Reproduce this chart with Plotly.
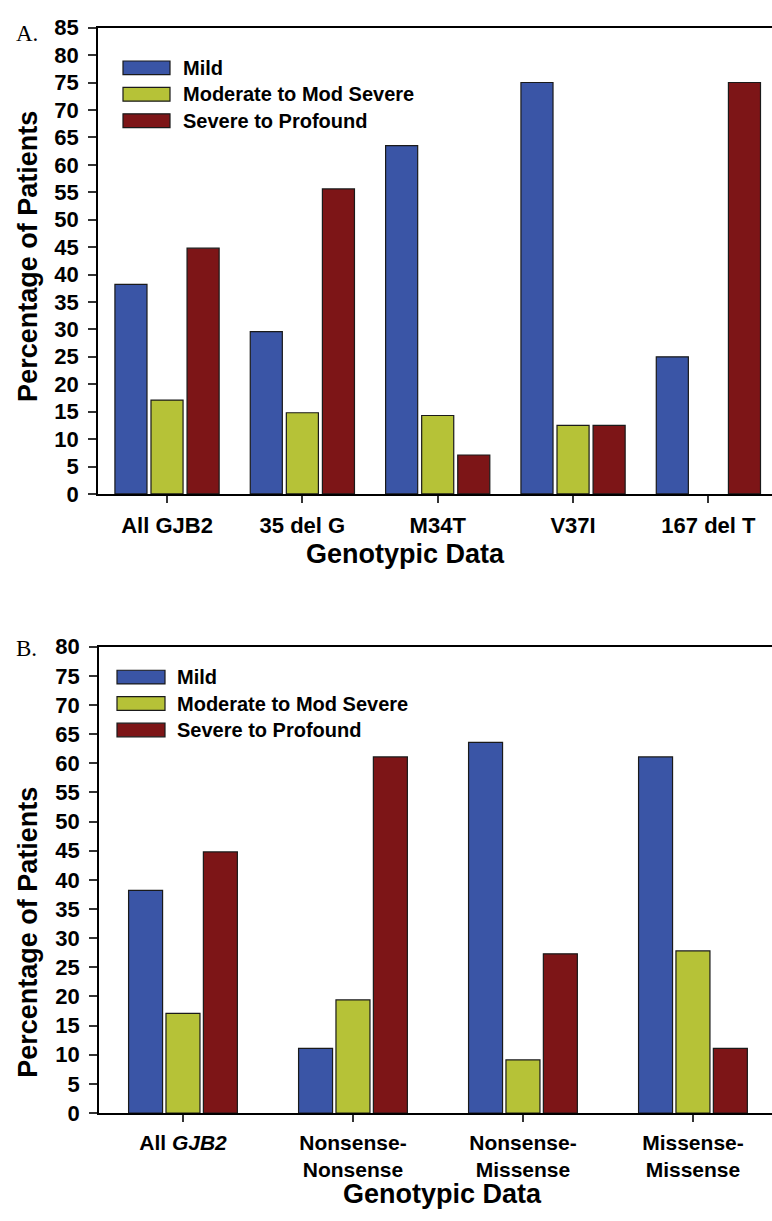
import plotly.graph_objects as go

# ---------------- data ----------------
series = ["Mild", "Moderate to Mod Severe", "Severe to Profound"]
colors = ["#3A55A6", "#B6C237", "#7D1517"]

cats_a = ["All GJB2", "35 del G", "M34T", "V37I", "167 del T"]
labels_a = ["All GJB2", "35 del G", "M34T", "V37I", "167 del T"]
mild_a = [38.2, 29.6, 63.5, 75.0, 25.0]
moderate_a = [17.1, 14.8, 14.3, 12.5, 0.0]
severe_a = [44.8, 55.6, 7.1, 12.5, 75.0]

cats_b = ["All GJB2", "Nonsense-Nonsense", "Nonsense-Missense", "Missense-Missense"]
labels_b = ["All <i>GJB2</i>", "Nonsense-<br>Nonsense", "Nonsense-<br>Missense", "Missense-<br>Missense"]
mild_b = [38.2, 11.1, 63.6, 61.1]
moderate_b = [17.1, 19.4, 9.1, 27.8]
severe_b = [44.8, 61.1, 27.3, 11.1]

y_title = "Percentage of Patients"
x_title = "Genotypic Data"

# ---------------- figure ----------------
W, H = 772, 1221
def px(x):
    return x / W
def py(y):
    return 1 - y / H

FONT = "Liberation Sans, Arial, Helvetica, sans-serif"
fig = go.Figure()

vals_a = [mild_a, moderate_a, severe_a]
vals_b = [mild_b, moderate_b, severe_b]
offs_a = [-0.385, -0.1185, 0.148]
offs_b = [-0.32, -0.10, 0.12]

def outline(vals):
    return dict(color="#1a1a1a", width=[0 if v == 0 else 1.2 for v in vals])

for i in range(3):
    fig.add_trace(go.Bar(x=cats_a, y=vals_a[i], name=series[i], marker_color=colors[i],
                         marker_line=outline(vals_a[i]),
                         width=0.237, offset=offs_a[i], xaxis="x", yaxis="y", showlegend=False))
    fig.add_trace(go.Bar(x=cats_b, y=vals_b[i], name=series[i], marker_color=colors[i],
                         marker_line=outline(vals_b[i]),
                         width=0.2, offset=offs_b[i], xaxis="x2", yaxis="y2", showlegend=False))

ytickfont = dict(family=FONT, size=22, color="black", weight=700)
common_x = dict(type="category", showline=True, linecolor="black", linewidth=1.5,
                ticks="outside", ticklen=7, tickwidth=1.5, tickcolor="#333",
                showgrid=False, zeroline=False, mirror=True)
common_y = dict(showline=True, linecolor="black", linewidth=1.5, ticks="outside",
                ticklen=8, tickwidth=1.5, tickcolor="#333", tickfont=ytickfont,
                showgrid=False, zeroline=False, dtick=5, tick0=0, ticklabelstandoff=5)

fig.update_layout(
    width=W, height=H, margin=dict(l=0, r=0, t=0, b=0),
    paper_bgcolor="white", plot_bgcolor="white", barmode="overlay",
    xaxis=dict(domain=[px(98), 1], anchor="y", range=[-0.51, 4.47],
               tickvals=cats_a, ticktext=labels_a, ticklabelstandoff=4,
               tickfont=dict(family=FONT, size=22, color="black", weight=700), **common_x),
    yaxis=dict(domain=[py(492), py(16)], anchor="x", range=[0, 85], **common_y),
    xaxis2=dict(domain=[px(99), 1], anchor="y2", range=[-0.494, 3.465],
                tickvals=cats_b, ticktext=labels_b, ticklabelstandoff=3,
                tickfont=dict(family=FONT, size=21, color="black", weight=700), **common_x),
    yaxis2=dict(domain=[py(1124), py(648)], anchor="x2", range=[0, 80], **common_y),
    showlegend=False,
)

annotations = []
shapes = []
# custom legends
for (x0, x1, ys, tx) in [(123, 170, [57, 84, 111], 181), (117, 165, [679, 706, 733], 175)]:
    for i, yc in enumerate(ys):
        shapes.append(dict(type="rect", xref="paper", yref="paper",
                           x0=px(x0), x1=px(x1), y0=py(yc - 7), y1=py(yc + 7),
                           fillcolor=colors[i], line=dict(color="#1a1a1a", width=1.2)))
        annotations.append(dict(text=series[i], xref="paper", yref="paper",
                                x=px(tx), y=py(yc), xanchor="left", yanchor="middle",
                                showarrow=False,
                                font=dict(family=FONT, size=20, color="black", weight=700)))

titlefont = dict(family=FONT, size=27, color="black", weight=700)
for yc in [250, 940]:
    annotations.append(dict(text=y_title, xref="paper", yref="paper", x=px(28), y=py(yc),
                            xanchor="center", yanchor="middle", textangle=-90,
                            showarrow=False, font=titlefont))
for xc, yc in [(405, 553), (442, 1207)]:
    annotations.append(dict(text=x_title, xref="paper", yref="paper", x=px(xc), y=py(yc),
                            xanchor="center", yanchor="middle", showarrow=False,
                            font=titlefont, borderpad=0))
for t, yc in [("A.", 22), ("B.", 650)]:
    annotations.append(dict(text=t, xref="paper", yref="paper", x=px(14), y=py(yc),
                            xanchor="left", yanchor="middle", showarrow=False,
                            font=dict(family="Liberation Serif, Times New Roman, serif",
                                      size=23, color="black")))

fig.update_layout(annotations=annotations, shapes=shapes)
fig.write_html("out.html", config={"displayModeBar": False},
               post_script="document.body.style.margin='0px';document.body.style.overflow='hidden';")
